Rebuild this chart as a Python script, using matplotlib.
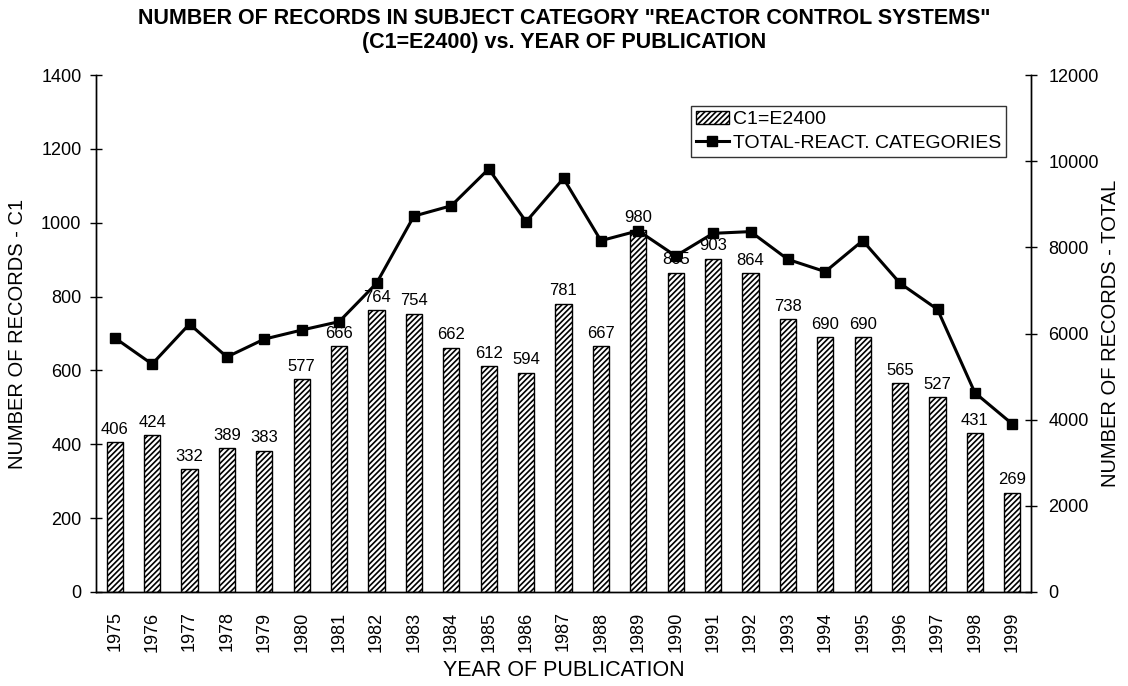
import matplotlib
matplotlib.use("Agg")
import matplotlib.pyplot as plt
import numpy as np

plt.rcParams['font.family'] = ['Liberation Sans', 'DejaVu Sans']
plt.rcParams['hatch.linewidth'] = 1.2

years = ['1975', '1976', '1977', '1978', '1979', '1980', '1981', '1982', '1983', '1984',
         '1985', '1986', '1987', '1988', '1989', '1990', '1991', '1992', '1993', '1994',
         '1995', '1996', '1997', '1998', '1999']
c1_records = [406, 424, 332, 389, 383, 577, 666, 764, 754, 662,
              612, 594, 781, 667, 980, 865, 903, 864, 738, 690,
              690, 565, 527, 431, 269]
total_records = [5900, 5290, 6220, 5455, 5870, 6080, 6275, 7165, 8725, 8965,
                 9820, 8595, 9600, 8155, 8385, 7800, 8325, 8365, 7720, 7435,
                 8155, 7165, 6560, 4625, 3900]
left_ticks = [0, 200, 400, 600, 800, 1000, 1200, 1400]
right_ticks = [0, 2000, 4000, 6000, 8000, 10000, 12000]

fig = plt.figure(figsize=(11.28, 6.86), dpi=100)
L, R, T, B = 96, 1031, 75, 592
ax1 = fig.add_axes([L/1128, 1 - B/686, (R-L)/1128, (B-T)/686])
ax2 = ax1.twinx()

x = np.arange(len(years))
ax1.bar(x, c1_records, width=0.43, color='white', edgecolor='black',
        hatch='//////', linewidth=1.0, label='C1=E2400', zorder=2)
for xi, v in zip(x, c1_records):
    ax1.text(xi, v + 14, str(v), ha='center', va='bottom', fontsize=12, zorder=3)

ax2.plot(x, total_records, color='black', lw=2.2, marker='s', markersize=6.5,
         label='TOTAL-REACT. CATEGORIES', zorder=4)

ax1.set_xlim(-0.5, len(years) - 0.5)
ax1.set_ylim(0, 1400)
ax2.set_ylim(0, 12000)
ax1.set_yticks(left_ticks)
ax2.set_yticks(right_ticks)
ax1.set_xticks(x)
ax1.set_xticklabels(years, rotation=90, fontsize=13)
ax1.tick_params(axis='x', length=0, pad=14)
ax1.tick_params(axis='y', labelsize=13, direction='inout', length=9, width=1.0, pad=6)
ax2.tick_params(axis='y', labelsize=13, direction='inout', length=9, width=1.0, pad=8)

for ax in (ax1, ax2):
    for s in ax.spines.values():
        s.set_linewidth(1.0)
        s.set_color('black')
ax1.spines['top'].set_visible(False)
ax2.spines['top'].set_visible(False)

ax1.set_ylabel('NUMBER OF RECORDS - C1', fontsize=14.5, labelpad=10)
ax1.set_xlabel('YEAR OF PUBLICATION', fontsize=15.5, labelpad=6)
fig.text(1110/1128, 1 - ((T + B) / 2) / 686, 'NUMBER OF RECORDS - TOTAL', rotation=90,
         ha='center', va='center', fontsize=14.5)

fig.text(0.5, 1 - 8/686, 'NUMBER OF RECORDS IN SUBJECT CATEGORY "REACTOR CONTROL SYSTEMS"\n(C1=E2400) vs. YEAR OF PUBLICATION',
         ha='center', va='top', fontsize=15.5, fontweight='bold', linespacing=1.2)

h1, l1 = ax1.get_legend_handles_labels()
h2, l2 = ax2.get_legend_handles_labels()
leg = ax2.legend(h1 + h2, l1 + l2, loc='upper right', bbox_to_anchor=(1006/1128, 1 - 106/686),
                 bbox_transform=fig.transFigure, fontsize=14, frameon=True, fancybox=False,
                 edgecolor='black', handlelength=1.7, handletextpad=0.2, borderpad=0.25,
                 labelspacing=0.3, borderaxespad=0)
leg.get_frame().set_linewidth(1.0)

fig.savefig('out.png', dpi=100)
